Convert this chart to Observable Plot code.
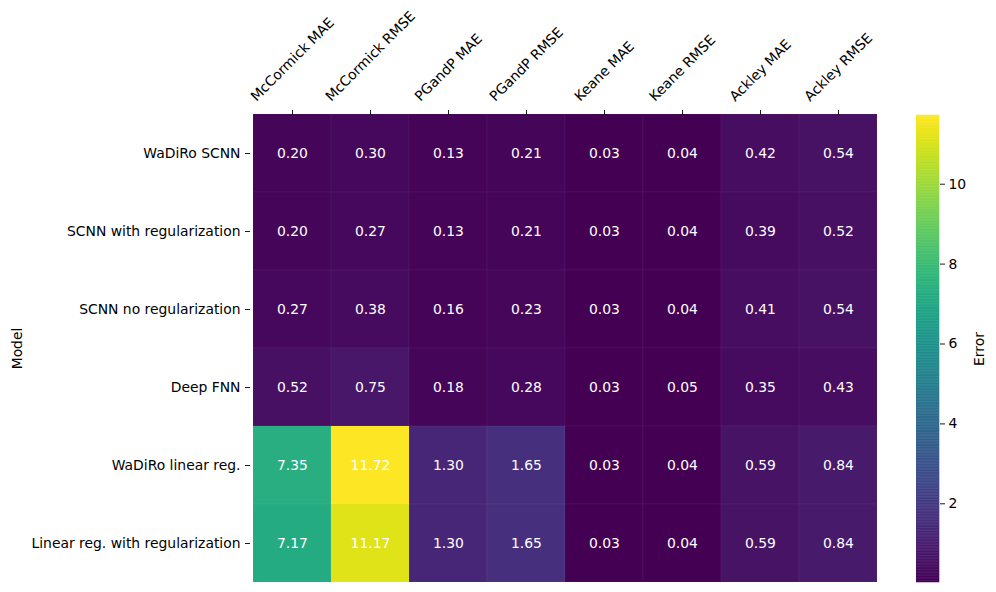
<!DOCTYPE html>
<html>
<head>
<meta charset="utf-8">
<script src="https://cdn.jsdelivr.net/npm/d3@7"></script>
<script src="https://cdn.jsdelivr.net/npm/@observablehq/plot@0.6"></script>
<style>
  html, body { margin: 0; padding: 0; background: #fff; }
  #wrap { position: relative; width: 996px; height: 592px; font-family: "DejaVu Sans", sans-serif; }
  #wrap > div, #wrap > svg { position: absolute; top: 0; }
</style>
</head>
<body>
<div id="wrap"></div>
<script>
const models = ["WaDiRo SCNN", "SCNN with regularization", "SCNN no regularization", "Deep FNN", "WaDiRo linear reg.", "Linear reg. with regularization"];
const metrics = ["McCormick MAE", "McCormick RMSE", "PGandP MAE", "PGandP RMSE", "Keane MAE", "Keane RMSE", "Ackley MAE", "Ackley RMSE"];
const mccormickMAE  = [0.20, 0.20, 0.27, 0.52, 7.35, 7.17];
const mccormickRMSE = [0.30, 0.27, 0.38, 0.75, 11.72, 11.17];
const pgandpMAE     = [0.13, 0.13, 0.16, 0.18, 1.30, 1.30];
const pgandpRMSE    = [0.21, 0.21, 0.23, 0.28, 1.65, 1.65];
const keaneMAE      = [0.03, 0.03, 0.03, 0.03, 0.03, 0.03];
const keaneRMSE     = [0.04, 0.04, 0.04, 0.05, 0.04, 0.04];
const ackleyMAE     = [0.42, 0.39, 0.41, 0.35, 0.59, 0.59];
const ackleyRMSE    = [0.54, 0.52, 0.54, 0.43, 0.84, 0.84];
const colorbarTicks = [2, 4, 6, 8, 10];

const series = [mccormickMAE, mccormickRMSE, pgandpMAE, pgandpRMSE, keaneMAE, keaneRMSE, ackleyMAE, ackleyRMSE];
const cells = [];
metrics.forEach((m, j) => models.forEach((r, i) => cells.push({metric: m, model: r, value: series[j][i]})));
const vmin = d3.min(cells, d => d.value), vmax = d3.max(cells, d => d.value);

const FONT = "DejaVu Sans";
const FS = 13.9;
const canvas = document.createElement("canvas");
const ctx = canvas.getContext("2d");
ctx.font = `${FS}px "${FONT}"`;
const fh = FS * 1.17;

const labelMarks = metrics.map(m => {
  const L = ctx.measureText(m).width;
  const H = (L + fh) * Math.SQRT1_2;
  return Plot.text([m], {
    x: d => d, frameAnchor: "top", dy: -(5 + 4.9 + H / 2),
    rotate: -45, textAnchor: "middle", lineAnchor: "middle",
    fill: "black", fontSize: FS
  });
});

const main = Plot.plot({
  width: 996, height: 592,
  marginLeft: 250, marginRight: 117, marginTop: 114, marginBottom: 10,
  style: {fontFamily: FONT, fontSize: FS + "px", color: "black", background: "white"},
  x: {domain: metrics, padding: 0, axis: null},
  y: {domain: models, padding: 0, axis: null},
  color: {type: "linear", scheme: "viridis", domain: [vmin, vmax]},
  marks: [
    Plot.cell(cells, {x: "metric", y: "model", fill: "value", stroke: "white", strokeOpacity: 0.05, strokeWidth: 0.8}),
    Plot.text(cells, {x: "metric", y: "model", text: d => d.value.toFixed(2), fill: "white", fontSize: FS}),
    Plot.axisX({anchor: "top", tickSize: 5, tickFormat: () => "", label: null, stroke: "black", strokeWidth: 0.9}),
    Plot.axisY({anchor: "left", tickSize: 5, tickPadding: 5, label: "Model", labelAnchor: "center", labelArrow: "none", labelOffset: 238, fontSize: FS, strokeWidth: 0.9}),
    ...labelMarks
  ]
});
main.style.left = "0px";
document.getElementById("wrap").appendChild(main);

const steps = 300;
const slices = d3.range(steps).map(k => {
  const a = vmin + (vmax - vmin) * k / steps;
  const b = vmin + (vmax - vmin) * (k + 1) / steps;
  return {y1: a, y2: b, v: (a + b) / 2};
});
const bar = Plot.plot({
  width: 80, height: 592,
  marginLeft: 0, marginRight: 57, marginTop: 115, marginBottom: 10,
  style: {fontFamily: FONT, fontSize: FS + "px", color: "black", background: "transparent"},
  x: {domain: [0, 1], axis: null},
  y: {domain: [vmin, vmax], axis: null},
  color: {type: "linear", scheme: "viridis", domain: [vmin, vmax]},
  marks: [
    Plot.rect(slices, {x1: 0, x2: 1, y1: "y1", y2: "y2", fill: "v", stroke: "v", strokeWidth: 0.5}),
    Plot.axisY(colorbarTicks, {anchor: "right", tickSize: 5, tickPadding: 4, tickFormat: d => String(d), label: "Error", labelAnchor: "center", labelArrow: "none", labelOffset: 44, fontSize: FS, strokeWidth: 0.9})
  ]
});
bar.style.left = "916px";
document.getElementById("wrap").appendChild(bar);
</script>
</body>
</html>
